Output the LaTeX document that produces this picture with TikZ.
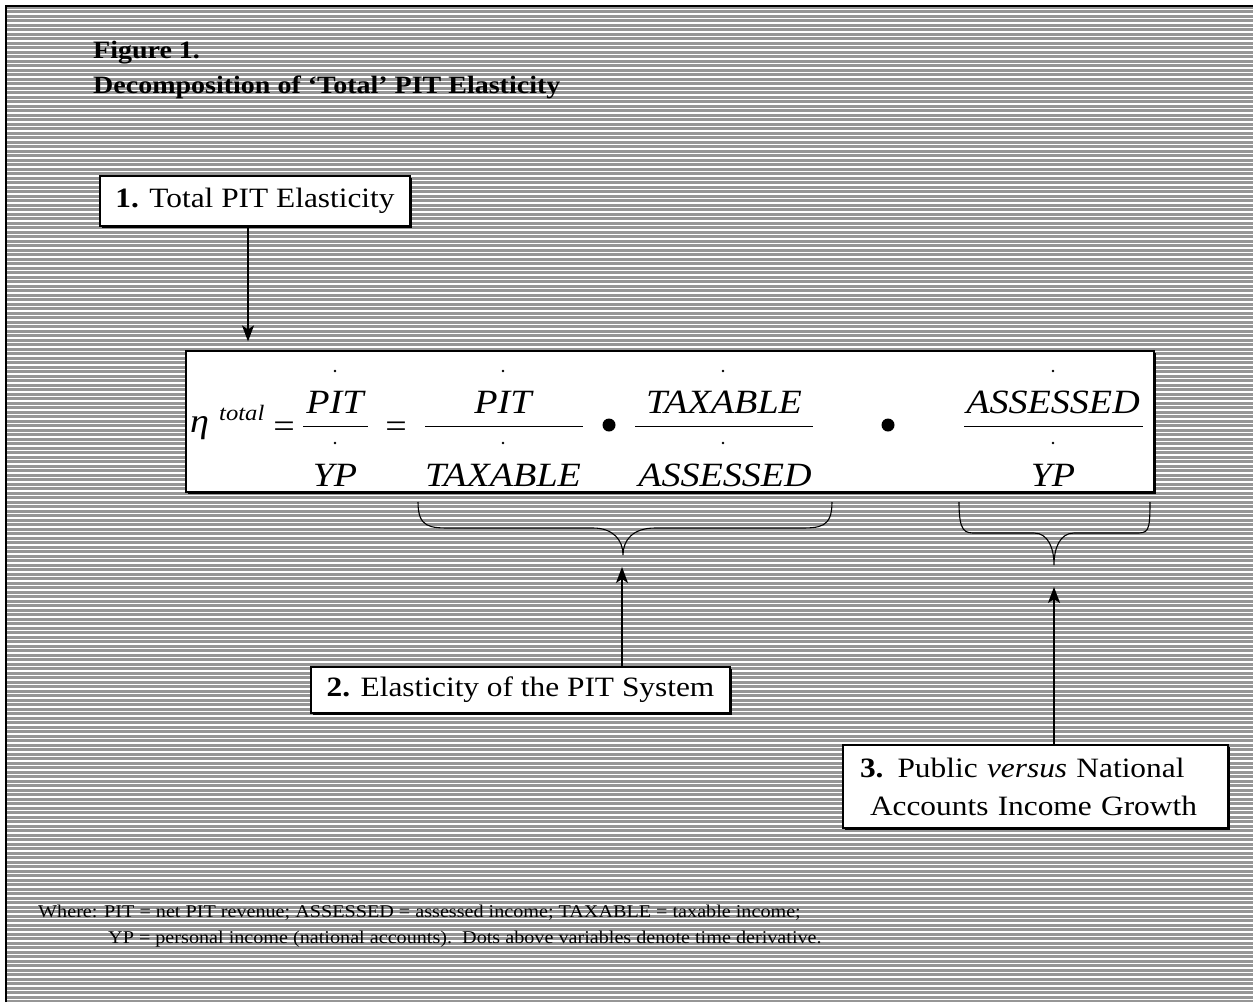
\documentclass[tikz,border=0pt]{standalone}
\usepackage{fontspec}
\setmainfont[FakeStretch=1.12]{Liberation Serif}
\usetikzlibrary{arrows.meta,shadows}
\definecolor{bggray}{RGB}{150,150,150}
\begin{document}
\begin{tikzpicture}[x=1pt,y=-1pt,
  box/.style={draw, line width=1.2pt, fill=white, inner sep=0pt,
    drop shadow={shadow xshift=1.6pt, shadow yshift=-1.6pt, fill=black, opacity=1},
    font=\fontsize{28}{38}\selectfont},
  arr/.style={line width=1.3pt, -{Stealth[length=16pt,width=12pt,inset=4pt]}},
  eqf/.style={font=\fontsize{34}{40}\selectfont\itshape, inner sep=0pt, anchor=base},
  eqs/.style={font=\fontsize{34}{40}\selectfont, inner sep=0pt, anchor=base},
  fracline/.style={line width=1pt},
  brace/.style={line width=1.1pt},
  dotv/.style={fill=black},
  foot/.style={font=\fontsize{18}{22}\selectfont, inner sep=0pt, anchor=base west},
  ttl/.style={font=\fontsize{25}{30}\selectfont\bfseries, inner sep=0pt, anchor=base west}]
\useasboundingbox (0,0) rectangle (1253,1002);
\fill[white] (0,0) rectangle (1253,1002);
\fill[bggray] (6,6) rectangle (1253,1002);
\foreach \i in {0,...,220} \draw[white, line width=1.2pt] (6,{9.5+4.5*\i}) -- (1253,{9.5+4.5*\i});
\draw[line width=2pt] (6,1002) -- (6,6) -- (1253,6);

% title
\node[ttl] (fig) at (93,58) {Figure 1.};
\node[ttl] (title) at (93,93) {Decomposition of ‘Total’ PIT Elasticity};

% boxes
\node[box, minimum width=310pt, minimum height=50pt] (b1) at (255,201) {\textbf{1.} Total PIT Elasticity};
\node[box, minimum width=968pt, minimum height=141pt] (eq) at (670,421.5) {};
\node[box, minimum width=419pt, minimum height=46pt] (b2) at (520.5,690) {\textbf{2.} Elasticity of the PIT System};
\node[box, text width=351pt, inner xsep=17pt, minimum height=83pt, align=left] (b3) at (1035.5,786.5)
  {\textbf{3.} Public \textit{versus} National\\\hspace*{10pt}Accounts Income Growth};

% equation
\node[eqf, anchor=base west] (eta) at (190,432) {η};
\node[font=\fontsize{22}{26}\selectfont\itshape, inner sep=0pt, anchor=base west] (tot) at (219,420) {total};
\node[eqs] (e1) at (284,437) {=};
\node[eqs] (e2) at (396,437) {=};

\node[eqf] (n1) at (335,413) {PIT};
\node[eqf] (d1) at (335,486) {YP};
\draw[fracline] (303,426) -- (368,426);
\fill[dotv] (335,371) circle (1.3pt);
\fill[dotv] (335,443) circle (1.3pt);

\node[eqf] (n2) at (503,413) {PIT};
\node[eqf] (d2) at (503,486) {TAXABLE};
\draw[fracline] (425,426) -- (583,426);
\fill[dotv] (503,371) circle (1.3pt);
\fill[dotv] (503,443) circle (1.3pt);

\fill (609,425) circle (6.5pt);

\node[eqf] (n3) at (724,413) {TAXABLE};
\node[eqf] (d3) at (725,486) {ASSESSED};
\draw[fracline] (635,426) -- (813,426);
\fill[dotv] (723,371) circle (1.3pt);
\fill[dotv] (723,443) circle (1.3pt);

\fill (888,425) circle (6.5pt);

\node[eqf] (n4) at (1053,413) {ASSESSED};
\node[eqf] (d4) at (1053,486) {YP};
\draw[fracline] (964,426) -- (1143,426);
\fill[dotv] (1053,371) circle (1.3pt);
\fill[dotv] (1053,443) circle (1.3pt);

% braces
\draw[brace] (418,502) .. controls (418,528) and (430,528) .. (452,528) -- (593,528)
  .. controls (613,528) and (623,540) .. (623,555)
  .. controls (623,540) and (633,528) .. (655,528) -- (798,528)
  .. controls (820,528) and (832,528) .. (832,502);
\coordinate (t1) at (622,555);
\draw[brace] (959,502) .. controls (959,533) and (965,533) .. (976,533) -- (1034,533)
  .. controls (1048,533) and (1054,548) .. (1054,565)
  .. controls (1054,548) and (1060,533) .. (1074,533) -- (1135,533)
  .. controls (1148,533) and (1150,533) .. (1150,502);
\coordinate (t2) at (1054,565);

% arrows
\coordinate (a1) at (248,0);
\draw[arr, shorten >=9pt] (b1.south -| a1) -- (eq.north -| a1);
\draw[arr, shorten >=12pt] (b2.north -| t1) -- (t1);
\draw[arr, shorten >=22pt] (b3.north -| t2) -- (t2);

% footer
\node[foot] (w1) at (38,917) {Where: PIT = net PIT revenue; ASSESSED = assessed income; TAXABLE = taxable income;};
\node[foot] (w2) at (108,943) {YP = personal income (national accounts).\ \ Dots above variables denote time derivative.};
\end{tikzpicture}
\end{document}
